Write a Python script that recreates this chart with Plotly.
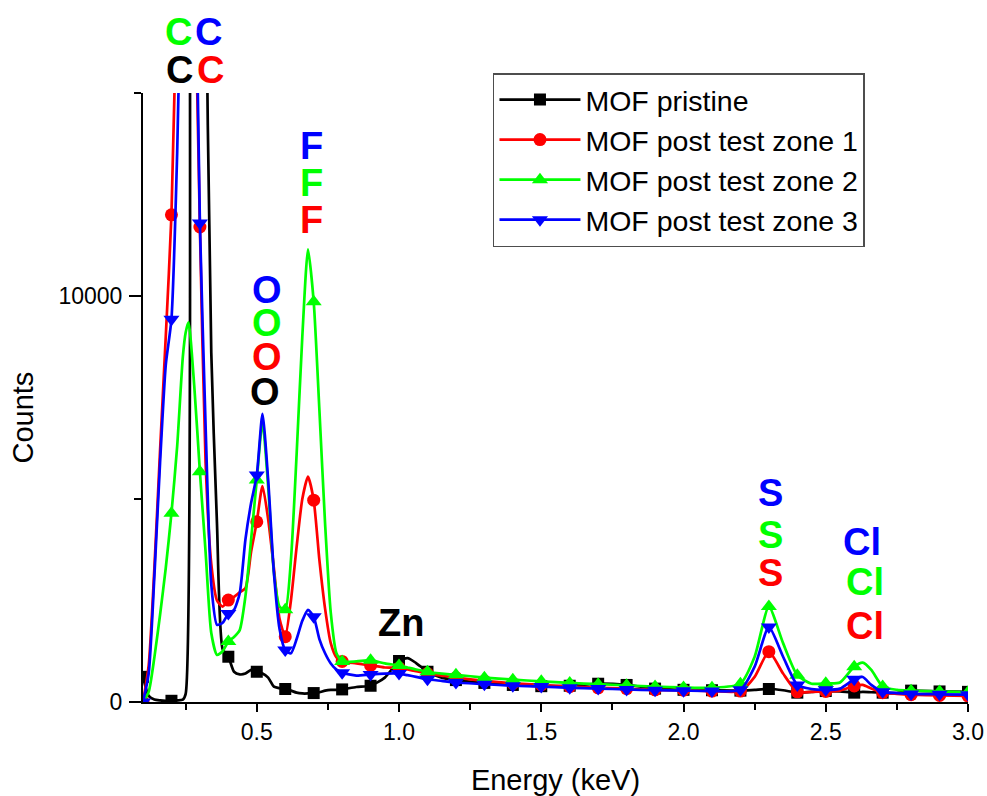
import numpy as np
import plotly.graph_objects as go

# ---------------- data ----------------
energy_keV = [0.10, 0.12, 0.14, 0.16, 0.18, 0.20, 0.22, 0.24, 0.25, 0.26, 0.28, 0.30,
              0.32, 0.34, 0.36, 0.38, 0.40, 0.42, 0.44, 0.46, 0.48, 0.50, 0.52, 0.54,
              0.56, 0.58, 0.60, 0.62, 0.64, 0.66, 0.68, 0.70, 0.72, 0.74, 0.76, 0.78,
              0.80, 0.85, 0.90, 0.95, 1.00, 1.03, 1.06, 1.10, 1.15, 1.20, 1.30, 1.40,
              1.50, 1.60, 1.70, 1.80, 1.90, 2.00, 2.10, 2.20, 2.25, 2.30, 2.35, 2.40,
              2.45, 2.50, 2.55, 2.60, 2.63, 2.66, 2.70, 2.75, 2.80, 2.90, 3.00]

counts_pristine = [620, 150, 60, 40, 30, 30, 40, 60, 200, 40000, 70000, 50000,
                   19000, 8600, 4400, 1300, 1115, 745, 680, 700, 790, 745, 700, 600,
                   380, 340, 320, 280, 230, 210, 210, 220, 240, 280, 300, 300,
                   310, 370, 400, 600, 1010, 1080, 960, 745, 600, 540, 470, 420,
                   390, 400, 450, 420, 330, 300, 290, 280, 300, 320, 290, 230,
                   250, 270, 260, 230, 250, 240, 230, 220, 280, 260, 250]

counts_zone1 = [0, 900, 3300, 6200, 9000, 12000, 18000, 24000, 26000, 27000, 19000, 11700,
                5900, 3400, 2500, 2350, 2510, 2590, 2700, 2800, 3700, 4440, 5320, 4500,
                3300, 2050, 1610, 2500, 3820, 5000, 5550, 4970, 3500, 2300, 1450, 1100,
                1000, 950, 900, 850, 840, 800, 760, 700, 650, 600, 520, 460,
                420, 380, 350, 330, 300, 290, 270, 270, 620, 1240, 700, 250,
                250, 260, 280, 395, 420, 330, 230, 200, 180, 160, 150]

counts_zone2 = [0, 250, 1100, 2150, 3300, 4650, 6290, 8500, 9100, 9350, 7800, 5670,
                3700, 1700, 1160, 1250, 1490, 1600, 1770, 2600, 4000, 5470, 6900, 5300,
                3200, 2350, 2270, 3500, 6100, 9000, 11150, 9860, 7200, 4400, 2200, 1200,
                1000, 1000, 1030, 950, 900, 850, 800, 745, 700, 670, 600, 550,
                510, 470, 440, 410, 380, 360, 350, 450, 1115, 2350, 1450, 660,
                450, 460, 480, 870, 970, 790, 380, 300, 280, 260, 240]

counts_zone3 = [0, 700, 3100, 5900, 8300, 9430, 13500, 20000, 22000, 23000, 20000, 11800,
                6800, 2900, 1900, 1950, 2180, 2270, 2680, 4000, 4900, 5590, 7100, 5470,
                3200, 1800, 1280, 1200, 1550, 2000, 2270, 2100, 1550, 1200, 950, 800,
                720, 650, 680, 700, 700, 660, 620, 560, 520, 480, 440, 400,
                380, 350, 330, 310, 290, 280, 270, 300, 870, 1850, 1115, 420,
                320, 300, 330, 560, 615, 420, 250, 220, 200, 190, 180]

series_names = ["MOF pristine", "MOF post test zone 1", "MOF post test zone 2", "MOF post test zone 3"]

# element labels: text, colour index, energy position, counts position
label_texts = ["C", "C", "C", "C", "O", "O", "O", "O", "F", "F", "F", "Zn",
               "S", "S", "S", "Cl", "Cl", "Cl"]
label_series = [2, 0, 3, 1, 3, 2, 1, 0, 3, 2, 1, 0, 3, 2, 1, 3, 2, 1]
label_x = [0.224, 0.230, 0.330, 0.336, 0.535, 0.535, 0.535, 0.530, 0.693, 0.693, 0.693, 1.007,
           2.305, 2.305, 2.305, 2.627, 2.639, 2.639]
label_y = [16510, 15567, 16510, 15567, 10148, 9335, 8498, 7635, 13695, 12783, 11872, 1946,
           5148, 4113, 3177, 3948, 2963, 1872]

Y_MAX = 15000

# ---------------- styles ----------------
colors = ["#000000", "#FF0000", "#00FF00", "#0000FF"]
symbols = ["square", "circle", "triangle-up", "triangle-down"]
msizes = [12, 13, 14, 14]
FONT = "Liberation Sans, Arial, sans-serif"

all_counts = [counts_pristine, counts_zone1, counts_zone2, counts_zone3]
x = np.array(energy_keV)
marker_mask = np.isclose(np.round(x * 10), x * 10)  # a marker every 0.1 keV

fig = go.Figure()
for name, ys, c, s, ms in zip(series_names, all_counts, colors, symbols, msizes):
    y = np.array(ys, dtype=float)
    fig.add_trace(go.Scatter(x=x, y=y, mode="lines",
                             line=dict(color=c, width=2.7, shape="spline", smoothing=0.6),
                             showlegend=False, hoverinfo="skip"))
    fig.add_trace(go.Scatter(x=x[marker_mask], y=y[marker_mask], mode="markers",
                             marker=dict(symbol=s, size=ms, color=c, line=dict(width=0)),
                             showlegend=False))
    # legend entry
    fig.add_trace(go.Scatter(x=[None], y=[None], mode="lines+markers", name=name,
                             line=dict(color=c, width=2.7),
                             marker=dict(symbol=s, size=ms, color=c, line=dict(width=0))))

# labels: x in data units, y as a fraction of the counts axis (so labels above the top still show)
for t, si, lx, ly in zip(label_texts, label_series, label_x, label_y):
    fig.add_annotation(x=lx, y=ly / Y_MAX, xref="x", yref="paper", text="<b>%s</b>" % t,
                       showarrow=False, font=dict(family=FONT, size=38, color=colors[si]),
                       xanchor="center", yanchor="middle", borderpad=0)

fig.add_annotation(x=-0.1455, y=0.467, xref="paper", yref="paper", text="Counts",
                   textangle=-90, showarrow=False, font=dict(family=FONT, size=29, color="black"),
                   xanchor="center", yanchor="middle")

fig.update_layout(
    width=987, height=796,
    margin=dict(l=143, r=19, t=93, b=94, autoexpand=False),
    paper_bgcolor="white", plot_bgcolor="white",
    font=dict(family=FONT, color="black"),
    showlegend=True,
    legend=dict(x=0.4242, y=1.0328, xanchor="left", yanchor="top",
                bgcolor="white", bordercolor="#4d4d4d", borderwidth=1.5,
                font=dict(family=FONT, size=28.5, color="black"),
                itemwidth=81, tracegroupgap=0),
    xaxis=dict(range=[0.1, 3.0], showline=True, linecolor="black", linewidth=2,
               ticks="outside", ticklen=8, tickwidth=2, tickcolor="black",
               tick0=0, dtick=0.5, tickformat=".1f",
               minor=dict(dtick=0.25, tick0=0.25, ticklen=6, tickwidth=2, tickcolor="black", ticks="outside"),
               showgrid=False, zeroline=False, tickfont=dict(family=FONT, size=23),
               title=dict(text="Energy (keV)", font=dict(family=FONT, size=29), standoff=26)),
    yaxis=dict(range=[0, Y_MAX], showline=True, linecolor="black", linewidth=2,
               ticks="outside", ticklen=12, tickwidth=2, tickcolor="black",
               tickvals=[0, 10000], ticktext=["0", "10000"],
               minor=dict(tickvals=[5000, 15000], ticklen=7, tickwidth=2, tickcolor="black", ticks="outside"),
               showgrid=False, zeroline=False, tickfont=dict(family=FONT, size=23),
               ticklabelstandoff=2),
)

fig.write_html("out.html", config={"displayModeBar": False},
               post_script="document.body.style.margin='0px';")
